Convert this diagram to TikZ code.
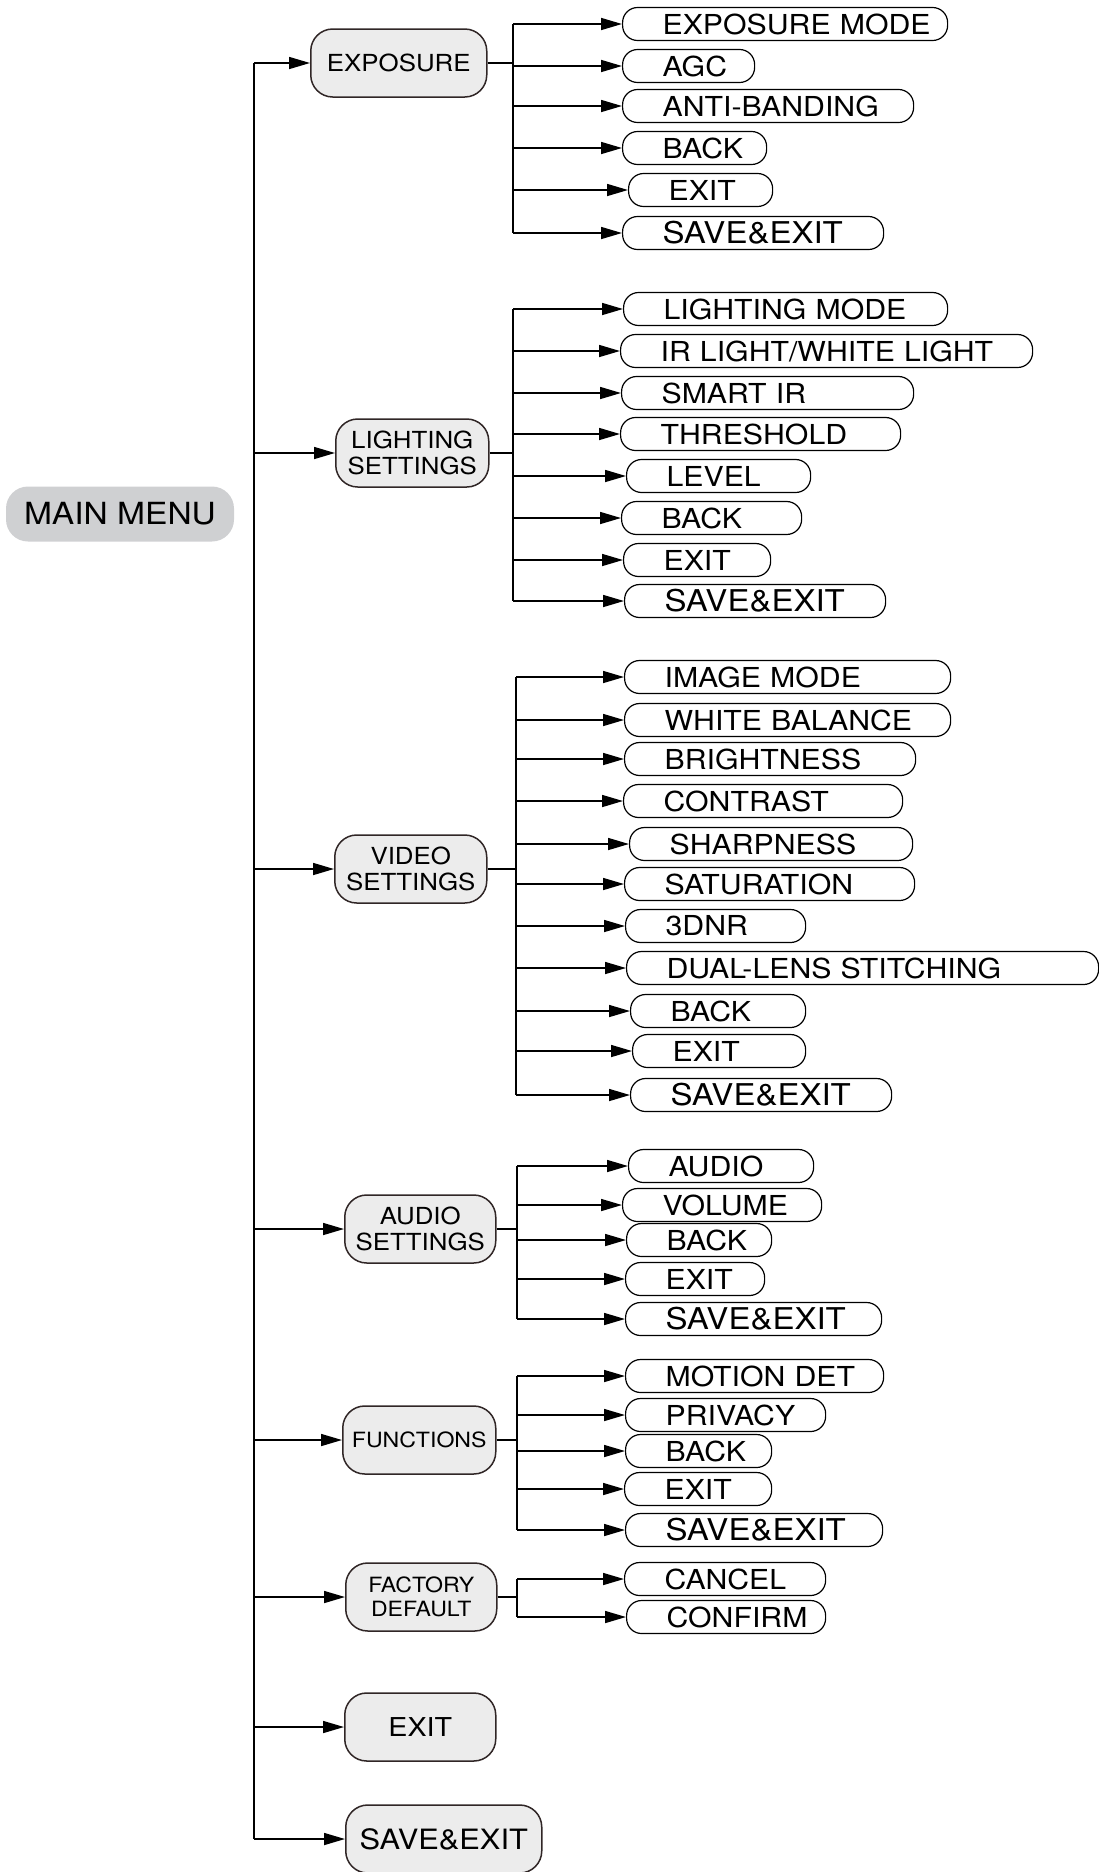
\documentclass[tikz,border=0pt]{standalone}
\usepackage{fontspec}
\setmainfont{TeX Gyre Heros}[FakeStretch=1.1]
\usetikzlibrary{arrows.meta}
\definecolor{menugray}{RGB}{207,208,210}
\definecolor{groupgray}{RGB}{236,236,236}
\definecolor{edgebrown}{RGB}{48,38,38}
\hbadness=10000 \hfuzz=500pt

\begin{document}
\begin{tikzpicture}[x=1pt,y=-1pt,>={Triangle[length=21pt,width=12pt]},
      link/.style={line width=1.6pt},
      mainbox/.style={fill=menugray,rounded corners=22pt,minimum width=228pt,minimum height=55pt,
        inner sep=0pt,font=\fontsize{30.5}{32}\selectfont},
      groupbox/.style={draw=edgebrown,fill=groupgray,line width=1.5pt,rounded corners=22pt,
        minimum height=68pt,minimum width=#1pt,anchor=west,align=center,inner sep=0pt,
        font=\fontsize{23.5}{25.5}\selectfont},
      itembox/.style={draw,line width=1.2pt,rounded corners=15pt,minimum height=33pt,
        inner xsep=40pt,inner ysep=0pt,text width=#1pt-80pt,anchor=west,
        execute at begin node={\hbox\bgroup},execute at end node={\egroup},
        font=\fontsize{27.5}{29}\selectfont},
      savetext/.style={font=\fontsize{30}{32}\selectfont}]
  \useasboundingbox (0,0) rectangle (1099,1872);

  % main menu and first level
  \node[mainbox] (main) at (120,514) {MAIN MENU};
  \coordinate (trunk) at (254,0);
  \node[groupbox=176] (exposure) at (310,63) {EXPOSURE};
  \node[groupbox=153] (lighting) at (335,453) {LIGHTING\\SETTINGS};
  \node[groupbox=152] (video) at (334,869) {VIDEO\\SETTINGS};
  \node[groupbox=151] (audio) at (344,1229) {AUDIO\\SETTINGS};
  \node[groupbox=153,font=\fontsize{21}{23.5}\selectfont] (functions) at (342,1440) {FUNCTIONS};
  \node[groupbox=151,font=\fontsize{21}{23.5}\selectfont] (factory) at (345,1597) {FACTORY\\DEFAULT};
  \node[groupbox=151,font=\fontsize{26}{28}\selectfont] (exit) at (344,1727) {EXIT};
  \node[groupbox=196,font=\fontsize{28}{30}\selectfont] (savexit) at (345,1839) {SAVE\&EXIT};

  \draw[link] (trunk |- exposure) -- (trunk |- savexit);
  \path[link,->] (trunk |- exposure) edge (exposure)
    (trunk |- lighting) edge (lighting)
    (trunk |- video) edge (video)
    (trunk |- audio) edge (audio)
    (trunk |- functions) edge (functions)
    (trunk |- factory) edge (factory)
    (trunk |- exit) edge (exit)
    (trunk |- savexit) edge (savexit);

  % exposure
  \coordinate (expbus) at (513,0);
  \node[itembox=325] (expmode) at (622,24) {EXPOSURE MODE};
  \node[itembox=132] (expagc) at (622,66) {AGC};
  \node[itembox=291] (expanti) at (622,106) {ANTI-BANDING};
  \node[itembox=144] (expback) at (622,148) {BACK};
  \node[itembox=144] (expexit) at (628,190) {EXIT};
  \node[itembox=261,savetext] (expsave) at (622,233) {SAVE\&EXIT};
  \draw[link] (exposure) -- (expbus |- exposure);
  \draw[link] (expbus |- expmode) -- (expbus |- expsave);
  \path[link,->] (expbus |- expmode) edge (expmode)
    (expbus |- expagc) edge (expagc)
    (expbus |- expanti) edge (expanti)
    (expbus |- expback) edge (expback)
    (expbus |- expexit) edge (expexit)
    (expbus |- expsave) edge (expsave);

  % lighting settings
  \coordinate (litbus) at (513,0);
  \node[itembox=324] (litmode) at (623,309) {LIGHTING MODE};
  \node[itembox=412] (litir) at (620,351) {IR LIGHT/WHITE LIGHT};
  \node[itembox=292] (litsmart) at (621,393) {SMART IR};
  \node[itembox=280] (litthres) at (620,434) {THRESHOLD};
  \node[itembox=184] (litlevel) at (626,476) {LEVEL};
  \node[itembox=180] (litback) at (621,518) {BACK};
  \node[itembox=147] (litexit) at (623,560) {EXIT};
  \node[itembox=261,savetext] (litsave) at (624,601) {SAVE\&EXIT};
  \draw[link] (lighting) -- (litbus |- lighting);
  \draw[link] (litbus |- litmode) -- (litbus |- litsave);
  \path[link,->] (litbus |- litmode) edge (litmode)
    (litbus |- litir) edge (litir)
    (litbus |- litsmart) edge (litsmart)
    (litbus |- litthres) edge (litthres)
    (litbus |- litlevel) edge (litlevel)
    (litbus |- litback) edge (litback)
    (litbus |- litexit) edge (litexit)
    (litbus |- litsave) edge (litsave);

  % video settings
  \coordinate (vidbus) at (516,0);
  \node[itembox=326] (vidimage) at (624,677) {IMAGE MODE};
  \node[itembox=326] (vidwhite) at (624,720) {WHITE BALANCE};
  \node[itembox=291] (vidbright) at (624,759) {BRIGHTNESS};
  \node[itembox=279] (vidcontr) at (623,801) {CONTRAST};
  \node[itembox=283] (vidsharp) at (629,844) {SHARPNESS};
  \node[itembox=290] (vidsatur) at (624,884) {SATURATION};
  \node[itembox=180] (vid3dnr) at (625,926) {3DNR};
  \node[itembox=472] (viddual) at (626,968) {DUAL-LENS STITCHING};
  \node[itembox=175] (vidback) at (630,1011) {BACK};
  \node[itembox=173] (videxit) at (632,1051) {EXIT};
  \node[itembox=261,savetext] (vidsave) at (630,1095) {SAVE\&EXIT};
  \draw[link] (video) -- (vidbus |- video);
  \draw[link] (vidbus |- vidimage) -- (vidbus |- vidsave);
  \path[link,->] (vidbus |- vidimage) edge (vidimage)
    (vidbus |- vidwhite) edge (vidwhite)
    (vidbus |- vidbright) edge (vidbright)
    (vidbus |- vidcontr) edge (vidcontr)
    (vidbus |- vidsharp) edge (vidsharp)
    (vidbus |- vidsatur) edge (vidsatur)
    (vidbus |- vid3dnr) edge (vid3dnr)
    (vidbus |- viddual) edge (viddual)
    (vidbus |- vidback) edge (vidback)
    (vidbus |- videxit) edge (videxit)
    (vidbus |- vidsave) edge (vidsave);

  % audio settings
  \coordinate (audbus) at (517,0);
  \node[itembox=185] (audaudio) at (628,1166) {AUDIO};
  \node[itembox=199] (audvol) at (622,1205) {VOLUME};
  \node[itembox=145] (audback) at (626,1240) {BACK};
  \node[itembox=139] (audexit) at (625,1279) {EXIT};
  \node[itembox=256,savetext] (audsave) at (625,1319) {SAVE\&EXIT};
  \draw[link] (audio) -- (audbus |- audio);
  \draw[link] (audbus |- audaudio) -- (audbus |- audsave);
  \path[link,->] (audbus |- audaudio) edge (audaudio)
    (audbus |- audvol) edge (audvol)
    (audbus |- audback) edge (audback)
    (audbus |- audexit) edge (audexit)
    (audbus |- audsave) edge (audsave);

  % functions
  \coordinate (funbus) at (517,0);
  \node[itembox=258] (funmotion) at (625,1376) {MOTION DET};
  \node[itembox=200] (funpriv) at (625,1415) {PRIVACY};
  \node[itembox=146] (funback) at (625,1451) {BACK};
  \node[itembox=147] (funexit) at (624,1489) {EXIT};
  \node[itembox=257,savetext] (funsave) at (625,1530) {SAVE\&EXIT};
  \draw[link] (functions) -- (funbus |- functions);
  \draw[link] (funbus |- funmotion) -- (funbus |- funsave);
  \path[link,->] (funbus |- funmotion) edge (funmotion)
    (funbus |- funpriv) edge (funpriv)
    (funbus |- funback) edge (funback)
    (funbus |- funexit) edge (funexit)
    (funbus |- funsave) edge (funsave);

  % factory default
  \coordinate (facbus) at (517,0);
  \node[itembox=201] (faccancel) at (624,1579) {CANCEL};
  \node[itembox=199] (facconfirm) at (626,1617) {CONFIRM};
  \draw[link] (factory) -- (facbus |- factory);
  \draw[link] (facbus |- faccancel) -- (facbus |- facconfirm);
  \path[link,->] (facbus |- faccancel) edge (faccancel)
    (facbus |- facconfirm) edge (facconfirm);
\end{tikzpicture}
\end{document}
